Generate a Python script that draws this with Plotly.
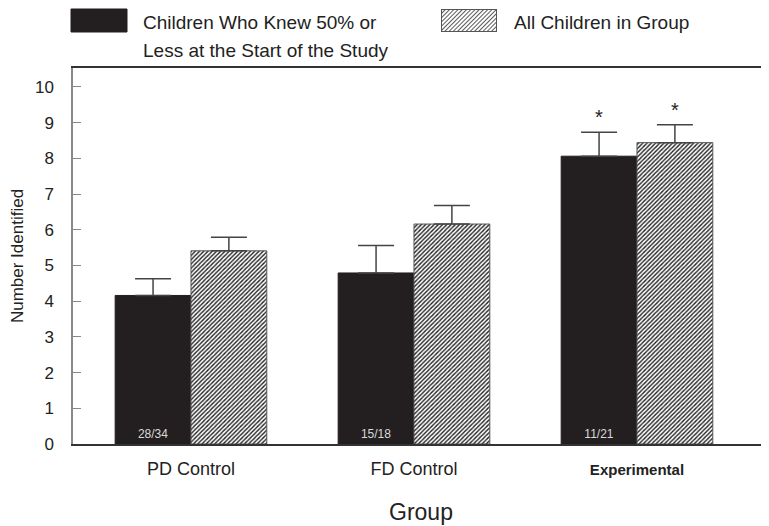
import plotly.graph_objects as go
import base64

groups = ["PD Control", "FD Control", "Experimental"]
group_labels = ["PD Control", "FD Control", "<b><span style='font-size:15px'>Experimental</span></b>"]
low_means = [4.16, 4.79, 8.06]
low_err = [0.47, 0.77, 0.67]
low_counts = ["28/34", "15/18", "11/21"]
all_means = [5.41, 6.16, 8.44]
all_err = [0.38, 0.52, 0.50]
significant = [False, False, True]
y_ticks = list(range(0, 11))
series_names = ["Children Who Knew 50% or Less at the Start of the Study", "All Children in Group"]

FONT = "Liberation Sans, Arial, sans-serif"
BARGAP = 0.32

fig = go.Figure()
fig.add_trace(go.Bar(
    x=groups, y=low_means, name=series_names[0],
    marker=dict(color="#231f20", line=dict(color="#231f20", width=1)),
    error_y=dict(type="data", array=low_err, arrayminus=[0] * 3, symmetric=False,
                 color="#444", thickness=1.5, width=18),
    text=low_counts, textposition="inside", insidetextanchor="start", textangle=0,
    textfont=dict(color="#d8d8d8", size=12, family=FONT),
    showlegend=False,
))
fig.add_trace(go.Bar(
    x=groups, y=all_means, name=series_names[1],
    marker=dict(color="white", line=dict(color="#555", width=1),
                pattern=dict(shape="/", fgcolor="#222", bgcolor="white", size=3, solidity=0.45)),
    error_y=dict(type="data", array=all_err, arrayminus=[0] * 3, symmetric=False,
                 color="#444", thickness=1.5, width=18),
    showlegend=False,
))

# significance asterisks above the error bars
half = (1 - BARGAP) / 4
for i, sig in enumerate(significant):
    if sig:
        for off, m, e in ((-half, low_means[i], low_err[i]), (half, all_means[i], all_err[i])):
            fig.add_annotation(x=i + off, y=m + e, xref="x", yref="y", text="*",
                               showarrow=False, yanchor="bottom", yshift=2,
                               font=dict(size=20, family=FONT, color="#222"))

# The page body adds an 8px margin, so the figure is drawn 8px smaller and offset.
OFF = 8
W, H = 769 - OFF, 526 - OFF
L, T = 73 - OFF, 68 - OFF
B = H - (444 - OFF)
pw, ph = W - L, H - T - B
px = lambda v: (v - OFF - L) / pw          # reference page pixel -> paper x
py = lambda v: (H - B - (v - OFF)) / ph    # reference page pixel -> paper y

fig.add_shape(type="rect", xref="paper", yref="paper",
              x0=px(71), x1=px(127), y0=py(32), y1=py(9),
              fillcolor="#231f20", line=dict(color="#231f20", width=1))

svg = ('<svg xmlns="http://www.w3.org/2000/svg" width="56" height="23" viewBox="0 0 56 23">'
       '<defs><pattern id="h" width="3" height="3" patternUnits="userSpaceOnUse" '
       'patternTransform="rotate(45)"><rect width="3" height="3" fill="white"/>'
       '<line x1="0" y1="0" x2="0" y2="3" stroke="#222" stroke-width="1.5"/></pattern></defs>'
       '<rect x="0.5" y="0.5" width="55" height="22" fill="url(#h)" stroke="#555" stroke-width="1"/></svg>')
src = "data:image/svg+xml;base64," + base64.b64encode(svg.encode()).decode()
fig.add_layout_image(source=src, xref="paper", yref="paper", x=px(441), y=py(9),
                     sizex=px(497) - px(441), sizey=py(9) - py(32),
                     xanchor="left", yanchor="top", sizing="stretch", layer="above")

leg_font = dict(size=19, family=FONT, color="#222")
fig.add_annotation(x=px(141), y=py(23), xref="paper", yref="paper", xanchor="left", yanchor="middle",
                   text="Children Who Knew 50% or", showarrow=False, font=leg_font)
fig.add_annotation(x=px(141), y=py(50), xref="paper", yref="paper", xanchor="left", yanchor="middle",
                   text="Less at the Start of the Study", showarrow=False, font=leg_font)
fig.add_annotation(x=px(512), y=py(23), xref="paper", yref="paper", xanchor="left", yanchor="middle",
                   text=series_names[1], showarrow=False, font=leg_font)

fig.update_layout(
    template="none",
    width=W, height=H,
    margin=dict(l=L, r=0, t=T, b=B, autoexpand=False),
    paper_bgcolor="white", plot_bgcolor="white",
    barmode="group", bargap=BARGAP, bargroupgap=0,
    font=dict(family=FONT, color="#222"),
    hovermode=False,
    xaxis=dict(
        range=[-0.529, 2.592], tickmode="array", tickvals=groups, ticktext=group_labels,
        showline=True, linecolor="#333", linewidth=1.5, mirror=True,
        ticks="", showgrid=False, zeroline=False, automargin=False,
        tickfont=dict(size=18, family=FONT, color="#222"), ticklabelstandoff=8,
        title=dict(text="Group", font=dict(size=23, family=FONT, color="#222"), standoff=26),
    ),
    yaxis=dict(
        range=[0, 10.53], tickmode="array", tickvals=y_ticks,
        showline=True, linecolor="#888", linewidth=1.5,
        ticks="inside", ticklen=8, tickcolor="#888", tickwidth=1.2,
        showgrid=False, zeroline=False, automargin=False,
        tickfont=dict(size=17, family=FONT, color="#222"), ticklabelstandoff=14,
        title=dict(text="Number Identified", font=dict(size=17, family=FONT, color="#222"), standoff=9),
    ),
)

fig.write_html("out.html")
